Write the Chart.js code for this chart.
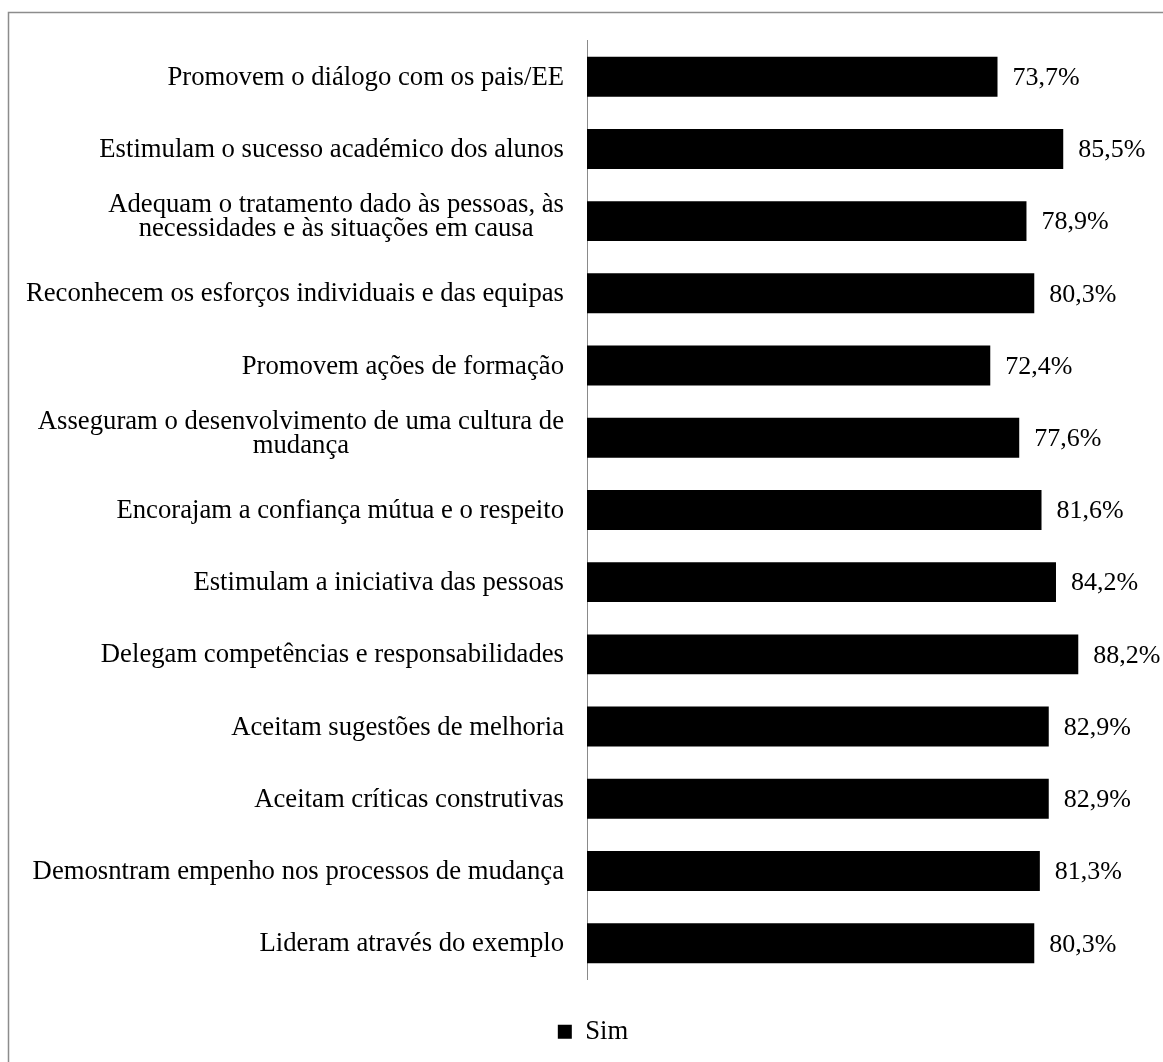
<!DOCTYPE html>
<html>
<head>
<meta charset="utf-8">
<title>Sim</title>
<script src="https://cdn.jsdelivr.net/npm/chart.js@4/dist/chart.umd.min.js"></script>
<style>
  html, body { margin: 0; padding: 0; background: #fff; }
  canvas { display: block; }
</style>
</head>
<body>
<canvas id="chart" width="1163" height="1062"></canvas>
<script>
// Categories (top to bottom); wrapped labels are given as arrays of lines
const categories = [
  'Promovem o diálogo com os pais/EE',
  'Estimulam o sucesso académico dos alunos',
  ['Adequam o tratamento dado às pessoas, às', 'necessidades e às situações em causa'],
  'Reconhecem os esforços individuais e das equipas',
  'Promovem ações de formação',
  ['Asseguram o desenvolvimento de uma cultura de', 'mudança'],
  'Encorajam a confiança mútua e o respeito',
  'Estimulam a iniciativa das pessoas',
  'Delegam competências e responsabilidades',
  'Aceitam sugestões de melhoria',
  'Aceitam críticas construtivas',
  'Demosntram empenho nos processos de mudança',
  'Lideram através do exemplo'
];

// Percentage of "Sim" answers per category
const simValues = [73.7, 85.5, 78.9, 80.3, 72.4, 77.6, 81.6, 84.2, 88.2, 82.9, 82.9, 81.3, 80.3];

const seriesName = 'Sim';
const valueRange = [0, 100];

const FONT_FAMILY = '"Liberation Serif", "Times New Roman", serif';
const LABEL_SIZE = 26.7;
const VALUE_SIZE = 26;
const LINE_SPACING = 23.5;
const PAD_LEFT = 42;
const AXIS_X = 587;

const formatPct = v => v.toFixed(1).replace('.', ',') + '%';

// Outer frame of the chart
const frame = {
  id: 'frame',
  beforeDraw(chart) {
    const ctx = chart.ctx;
    ctx.save();
    ctx.strokeStyle = '#8c8c8c';
    ctx.lineWidth = 1.5;
    ctx.beginPath();
    ctx.moveTo(8.5, chart.height + 5);
    ctx.lineTo(8.5, 12.5);
    ctx.lineTo(chart.width + 5, 12.5);
    ctx.stroke();
    ctx.restore();
  }
};

// Category labels: block right-aligned to the axis, lines centred within the block
const categoryLabels = {
  id: 'categoryLabels',
  afterDraw(chart) {
    const yScale = chart.scales.y;
    const ctx = chart.ctx;
    ctx.save();
    ctx.font = `${LABEL_SIZE}px ${FONT_FAMILY}`;
    ctx.fillStyle = '#000';
    ctx.textAlign = 'center';
    ctx.textBaseline = 'middle';
    const right = yScale.right - 23;
    categories.forEach((label, i) => {
      const lines = [].concat(label);
      const w = Math.max(...lines.map(t => ctx.measureText(t).width));
      let cy = yScale.getPixelForValue(i) + 1;
      if (lines.length > 1) cy -= 5;
      lines.forEach((t, j) => {
        ctx.fillText(t, right - w / 2, cy + (j - (lines.length - 1) / 2) * LINE_SPACING);
      });
    });
    ctx.restore();
  }
};

// Value labels at the end of each bar
const valueLabels = {
  id: 'valueLabels',
  afterDatasetsDraw(chart) {
    const ctx = chart.ctx;
    const meta = chart.getDatasetMeta(0);
    const data = chart.data.datasets[0].data;
    ctx.save();
    ctx.font = `${VALUE_SIZE}px ${FONT_FAMILY}`;
    ctx.fillStyle = '#000';
    ctx.textAlign = 'left';
    ctx.textBaseline = 'middle';
    meta.data.forEach((bar, i) => {
      ctx.fillText(formatPct(data[i]), bar.x + 15, bar.y + 1.5);
    });
    ctx.restore();
  }
};

new Chart(document.getElementById('chart'), {
  type: 'bar',
  data: {
    labels: categories,
    datasets: [{
      label: seriesName,
      data: simValues,
      backgroundColor: '#000000',
      borderWidth: 0,
      categoryPercentage: 1,
      barPercentage: 0.553
    }]
  },
  options: {
    indexAxis: 'y',
    responsive: false,
    animation: false,
    events: [],
    layout: { padding: { left: PAD_LEFT, right: 19, top: 40.6, bottom: 7 } },
    plugins: {
      legend: {
        position: 'bottom',
        labels: {
          color: '#000',
          font: { family: FONT_FAMILY, size: LABEL_SIZE },
          boxWidth: 14,
          boxHeight: 14,
          padding: 10
        }
      },
      tooltip: { enabled: false }
    },
    scales: {
      x: {
        min: valueRange[0],
        max: valueRange[1],
        grid: { display: false },
        border: { display: false },
        ticks: { display: false },
        afterFit(scale) { scale.height = 29; }
      },
      y: {
        grid: { display: false, drawTicks: false },
        border: { display: true, color: '#8a8a8a', width: 1 },
        ticks: { display: false },
        afterFit(scale) { scale.width = AXIS_X - PAD_LEFT; }
      }
    }
  },
  plugins: [frame, categoryLabels, valueLabels]
});
</script>
</body>
</html>
